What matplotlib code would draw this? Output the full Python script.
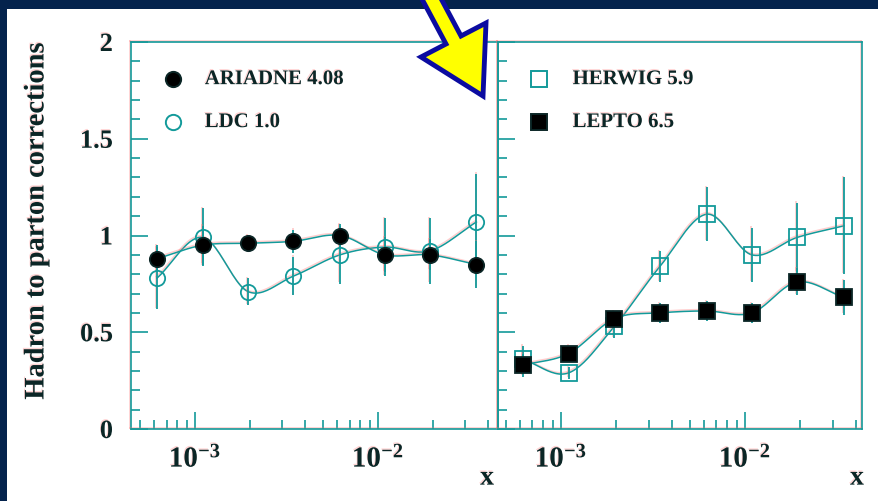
import numpy as np
import matplotlib
matplotlib.use('Agg')
import matplotlib.pyplot as plt
import matplotlib.patheffects as pe
from matplotlib.patches import Polygon, Rectangle
from matplotlib.ticker import MultipleLocator, LogLocator, FuncFormatter, NullFormatter, FormatStrFormatter
from matplotlib import transforms

plt.rcParams['font.family'] = ['Liberation Serif', 'DejaVu Serif']
plt.rcParams['font.weight'] = 'bold'
plt.rcParams['mathtext.fontset'] = 'custom'
plt.rcParams['mathtext.rm'] = 'Liberation Serif:bold'
plt.rcParams['mathtext.default'] = 'rm'

# x bin centres
x = [6.2e-4, 1.1e-3, 1.95e-3, 3.45e-3, 6.2e-3, 1.09e-2, 1.92e-2, 3.45e-2]

# hadron to parton corrections per generator
ariadne = [0.88, 0.95, 0.96, 0.97, 1.00, 0.90, 0.90, 0.85]
ariadne_err = [0.07, 0.10, 0.04, 0.06, 0.06, 0.09, 0.08, 0.12]
ldc = [0.78, 0.99, 0.71, 0.79, 0.90, 0.94, 0.92, 1.07]
ldc_err = [0.16, 0.15, 0.07, 0.10, 0.15, 0.15, 0.17, 0.25]
herwig = [0.36, 0.29, 0.53, 0.84, 1.11, 0.90, 0.99, 1.05]
herwig_err = [0.07, 0.03, 0.06, 0.08, 0.14, 0.14, 0.18, 0.25]
lepto = [0.33, 0.39, 0.57, 0.60, 0.61, 0.60, 0.76, 0.68]
lepto_err = [0.06, 0.04, 0.04, 0.05, 0.05, 0.05, 0.07, 0.09]

teal = '#139a9a'
ink = '#0b2626'
navy = '#04234d'

# faint red ghost that sits just above every printed line
ghost = [pe.SimpleLineShadow(offset=(-0.6, 1.0), shadow_color='#ff7070', alpha=0.35), pe.Normal()]
ghost_txt = [pe.withSimplePatchShadow(offset=(-0.6, 1.0), shadow_rgbFace='#ff7070', alpha=0.3)]


def smooth(xs, ys, n=25):
    # catmull-rom curve through the points, in log10(x)
    lx = np.log10(xs)
    y = np.asarray(ys, dtype=float)
    px = np.concatenate([[2 * lx[0] - lx[1]], lx, [2 * lx[-1] - lx[-2]]])
    py = np.concatenate([[2 * y[0] - y[1]], y, [2 * y[-1] - y[-2]]])
    t = np.linspace(0, 1, n)
    outx, outy = [], []
    for i in range(1, len(px) - 2):
        for p, out in ((px, outx), (py, outy)):
            p0, p1, p2, p3 = p[i - 1], p[i], p[i + 1], p[i + 2]
            out.extend(0.5 * (2 * p1 + (-p0 + p2) * t
                              + (2 * p0 - 5 * p1 + 4 * p2 - p3) * t ** 2
                              + (-p0 + 3 * p1 - 3 * p2 + p3) * t ** 3))
    return 10 ** np.array(outx), np.array(outy)


def draw(ax, vals, errs, marker, filled):
    sx, sy = smooth(x, vals)
    ax.plot(sx, sy, color=teal, lw=1.1, zorder=2, path_effects=ghost)
    eb = ax.errorbar(x, vals, yerr=errs, fmt='none', ecolor=teal, elinewidth=1.3, capsize=0, zorder=2)
    for c in eb[2]:
        c.set_path_effects(ghost)
    ax.plot(x, vals, marker, ms=11, mfc='black' if filled else 'none', mec=ink if filled else teal,
            mew=1.3, ls='none', zorder=3)


def legend_entry(ax, xm, xt, y, marker, filled, label):
    ax.plot([xm], [y], marker, ms=11, mfc='black' if filled else 'none', mec=ink if filled else teal,
            mew=1.4, transform=ax.transAxes, clip_on=False, zorder=4)
    ax.text(xt, y, label, transform=ax.transAxes, ha='left', va='center', fontsize=15,
            color=ink, fontweight='bold', path_effects=ghost_txt)


fig = plt.figure(figsize=(8.79, 5.01), dpi=100, facecolor=navy)
fig.patches.append(Rectangle((7 / 879, 0), 1, 492 / 501, transform=fig.transFigure,
                             facecolor='white', edgecolor='none', zorder=-5))

ax1 = fig.add_axes([131 / 879, 72 / 501, 367 / 879, 387 / 501])
ax2 = fig.add_axes([498 / 879, 72 / 501, 364 / 879, 387 / 501])
ax1.set_xlim(10 ** -3.35, 10 ** -1.344)
ax2.set_xlim(10 ** -3.342, 10 ** -1.364)

for ax in (ax1, ax2):
    ax.set_facecolor('none')
    ax.set_xscale('log')
    ax.set_ylim(0, 2)
    for s in ax.spines.values():
        s.set_color(teal)
        s.set_linewidth(1.2)
        s.set_path_effects(ghost)
    ax.yaxis.set_major_locator(MultipleLocator(0.5))
    ax.yaxis.set_minor_locator(MultipleLocator(0.1))
    ax.yaxis.set_major_formatter(FormatStrFormatter('%g'))
    ax.xaxis.set_major_locator(LogLocator(base=10))
    ax.xaxis.set_minor_locator(LogLocator(base=10, subs=np.arange(2, 10)))
    ax.xaxis.set_minor_formatter(NullFormatter())
    ax.xaxis.set_major_formatter(FuncFormatter(lambda v, p: r'$10^{%d}$' % round(np.log10(v))))
    ax.tick_params(which='both', direction='in', color=teal, width=1.2, top=False, right=False,
                   labelcolor=ink, labelsize=19)
    ax.tick_params(which='major', length=12)
    ax.tick_params(which='minor', length=6.5)
    ax.tick_params(axis='y', pad=13)
    ax.tick_params(axis='x', labelsize=21, pad=11)
    for lab in ax.get_xticklabels() + ax.get_yticklabels():
        lab.set_path_effects(ghost_txt)
    ax.text(0.97 if ax is ax1 else 0.986, -0.127, 'x', transform=ax.transAxes, ha='center',
            va='center', fontsize=20, color=ink, path_effects=ghost_txt)

ax2.tick_params(axis='y', labelleft=False)

draw(ax1, ldc, ldc_err, 'o', False)
draw(ax1, ariadne, ariadne_err, 'o', True)
draw(ax2, herwig, herwig_err, 's', False)
draw(ax2, lepto, lepto_err, 's', True)

legend_entry(ax1, 0.114, 0.201, 0.904, 'o', True, 'ARIADNE 4.08')
legend_entry(ax1, 0.114, 0.201, 0.793, 'o', False, 'LDC 1.0')
legend_entry(ax2, 0.112, 0.205, 0.904, 's', False, 'HERWIG 5.9')
legend_entry(ax2, 0.112, 0.205, 0.793, 's', True, 'LEPTO 6.5')

fig.text(37 / 879, (501 - 221) / 501, 'Hadron to parton corrections', rotation=90,
         ha='center', va='center', fontsize=20.5, color=ink, path_effects=ghost_txt)

# yellow arrow, drawn in pixel units from the top-left corner
px = transforms.Affine2D().scale(1 / 879, -1 / 501).translate(0, 1) + fig.transFigure
arrow = [(483, 96), (486, 23), (461, 36), (414, -52), (399, -44), (446, 44), (421, 57)]
fig.patches.append(Polygon(arrow, closed=True, transform=px, facecolor='#ffff00',
                           edgecolor='#0c0ca0', linewidth=3.5, joinstyle='miter', zorder=10))

fig.savefig('out.png', dpi=100, facecolor=navy)
